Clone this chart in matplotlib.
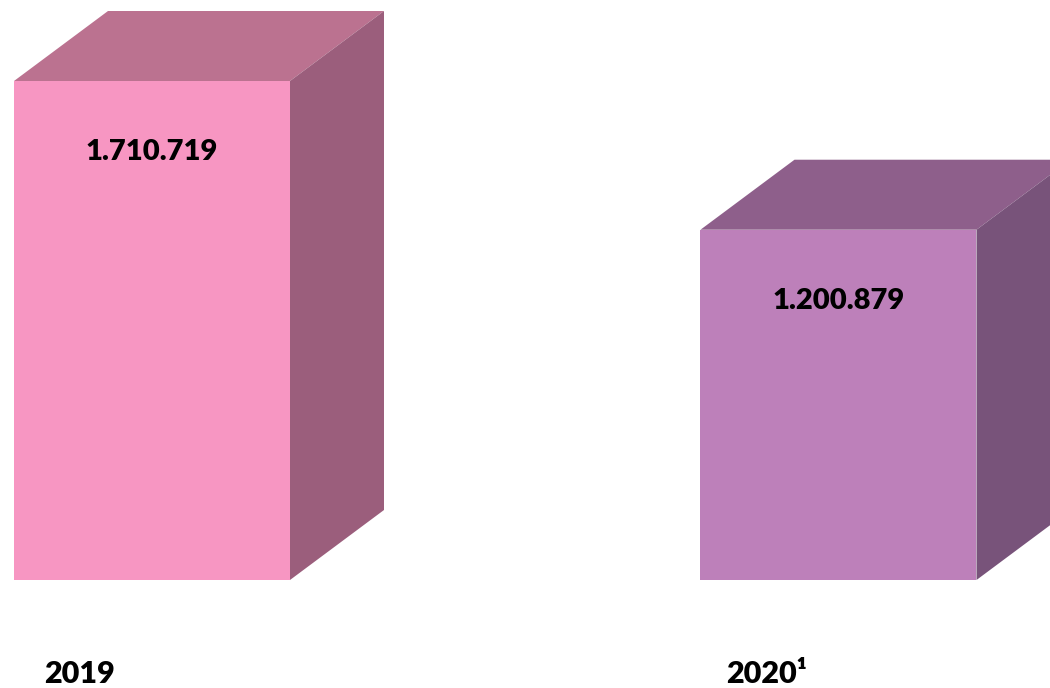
import matplotlib
matplotlib.use("Agg")
import matplotlib.pyplot as plt
from matplotlib.patches import Polygon

# Data
categories = ["2019", "2020¹"]
values = [1710719, 1200879]
value_labels = ["1.710.719", "1.200.879"]

# Styles
front_colors = ["#F796C2", "#BD80BA"]
top_colors = ["#BB7290", "#8E5F8B"]
side_colors = ["#9B5E7C", "#78537A"]

W, H, DPI = 1050, 688, 100
fig = plt.figure(figsize=(W / DPI, H / DPI), dpi=DPI)
fig.patch.set_facecolor("white")

# axes: data 0 at pixel row 580 (from top), full width
base_px = 580
top_px_first = 81
ax = fig.add_axes([0, (H - base_px) / H, 1, base_px / H])
scale = values[0] / (base_px - top_px_first)  # value per pixel
ax.set_ylim(0, base_px * scale)
c0, c1 = 152.0, 838.5
unit = c1 - c0
ax.set_xlim(-c0 / unit, (W - c0) / unit)
ax.axis("off")

bar_w = 276 / unit
dx = 94 / unit
dy = 70 * scale

xs = list(range(len(categories)))
bars = ax.bar(xs, values, width=bar_w, color=front_colors, zorder=3,
              edgecolor="none")
for i, b in enumerate(bars):
    x0 = b.get_x()
    x1 = x0 + b.get_width()
    h = b.get_height()
    top = Polygon([(x0, h), (x1, h), (x1 + dx, h + dy), (x0 + dx, h + dy)],
                  closed=True, facecolor=top_colors[i], edgecolor="none",
                  zorder=2, clip_on=True)
    side = Polygon([(x1, 0), (x1 + dx, dy), (x1 + dx, h + dy), (x1, h)],
                   closed=True, facecolor=side_colors[i], edgecolor="none",
                   zorder=2, clip_on=True)
    ax.add_patch(top)
    ax.add_patch(side)
    ax.annotate(value_labels[i], xy=(xs[i], h), xycoords="data",
                xytext=(0, -51), textcoords="offset points",
                ha="center", va="center", fontsize=21, fontweight="heavy",
                family="Lato", color="black")
    ax.annotate(categories[i], xy=(xs[i], 0), xycoords="data",
                xytext=(-52, -68), textcoords="offset points",
                ha="center", va="center", fontsize=22, fontweight="heavy",
                family="Lato", color="black", annotation_clip=False)

fig.savefig("out.png", dpi=DPI, facecolor="white")
